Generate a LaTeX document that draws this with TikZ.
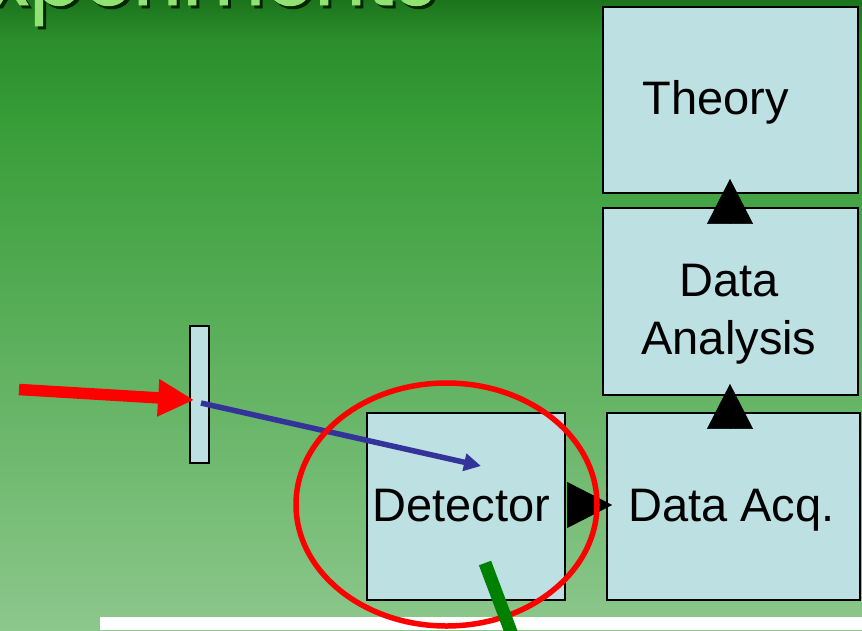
\documentclass[tikz,border=0pt]{standalone}
\usepackage{fontspec}
\setmainfont{Liberation Sans}
\newfontfamily\titlefont{Poppins}[FakeBold=1.2]
\usetikzlibrary{arrows.meta,calc}
\definecolor{boxfill}{RGB}{189,224,227}
\definecolor{bgbot}{RGB}{140,199,140}
\definecolor{bgmid}{RGB}{56,158,56}
\definecolor{bghi}{RGB}{42,142,42}
\definecolor{bgtop}{RGB}{28,116,28}
\definecolor{titlegreen}{RGB}{146,226,115}
\definecolor{beamblue}{RGB}{51,51,153}
\definecolor{trackgreen}{RGB}{0,128,0}
\pgfdeclareverticalshading{slidebg}{100bp}{color(0bp)=(bgbot); color(25bp)=(bgbot); color(65bp)=(bgmid); color(72bp)=(bghi); color(75bp)=(bgtop); color(100bp)=(bgtop)}
\tikzset{
  blockbox/.style={draw=black, line width=1.8pt, fill=boxfill, inner sep=0pt},
  boxtext/.style={anchor=base, inner sep=0pt, font=\fontsize{47}{58}\selectfont},
  titletext/.style={anchor=base east, font=\titlefont\fontsize{80}{82}\selectfont},
  flowtri/.style={line width=0.5pt, -{Triangle[length=45pt,width=46pt]}},
  redarrow/.style={red, line width=11.5pt, -{Triangle[length=36pt,width=35pt]}},
  bluebeam/.style={beamblue, line width=5.5pt, -{Triangle[length=17pt,width=17pt]}},
  ring/.style={red, line width=5.5pt},
  track/.style={trackgreen, line width=13pt},
}
\begin{document}
\begin{tikzpicture}[x=1pt,y=-1pt]
\useasboundingbox (0,0) rectangle (862,630);
\begin{scope}
\clip (0,0) rectangle (862,630);
\shade[shading=slidebg] (0,0) rectangle (862,630);
\fill[white] (100,617) rectangle (862,630);
% title
\node[titletext, text=black!85!green] (titleshadow) at (443,8) {Experiments};
\node[titletext, text=titlegreen] (title) at (440,5) {Experiments};
% boxes
\node[blockbox, minimum width=255pt, minimum height=186pt] (theory) at (730.5,100) {};
\node[blockbox, minimum width=255pt, minimum height=187pt] (ana) at (730.5,301.5) {};
\node[blockbox, minimum width=253pt, minimum height=187pt] (acq) at (733.5,506.5) {};
\node[blockbox, minimum width=198pt, minimum height=187pt] (det) at (466,506.5) {};
\node[draw=black, line width=1.8pt, fill=boxfill, minimum width=19pt, minimum height=137pt, inner sep=0pt] (slab) at (199.5,394.5) {};
% box texts
\node[boxtext] (theorytext) at (716,114) {Theory};
\node[boxtext] (anatext1) at (729,296) {Data};
\node[boxtext] (anatext2) at (729,354) {Analysis};
\node[boxtext] (acqtext) at (731.5,521) {Data Acq.};
\node[boxtext] (dettext) at (461.5,521) {Detector};
% flow arrows
\draw[flowtri] ($(acq.north)+(-3.5,15)$) -- ($(ana.south)+(-0.5,-12)$);
\draw[flowtri] ($(ana.north)+(-0.5,15)$) -- ($(theory.south)+(-0.5,-15)$);
\draw[flowtri] ($(det.east)+(1,-1.5)$) -- ($(acq.west)+(6,-1.5)$);
% beam
\coordinate (beamstart) at (19,389.5);
\draw[redarrow] (beamstart) -- ($(slab.west)+(5,5.5)$);
\coordinate (hit) at (481,466);
\draw[bluebeam] ($(slab.center)+(1.5,8.5)$) -- (hit);
% ring and track
\draw[ring] (446.5,504.5) ellipse [x radius=150.5, y radius=121.5];
\coordinate (trackstart) at (485,563);
\coordinate (trackend) at (514,640);
\draw[track] (trackstart) -- (trackend);
\end{scope}
\end{tikzpicture}
\end{document}
